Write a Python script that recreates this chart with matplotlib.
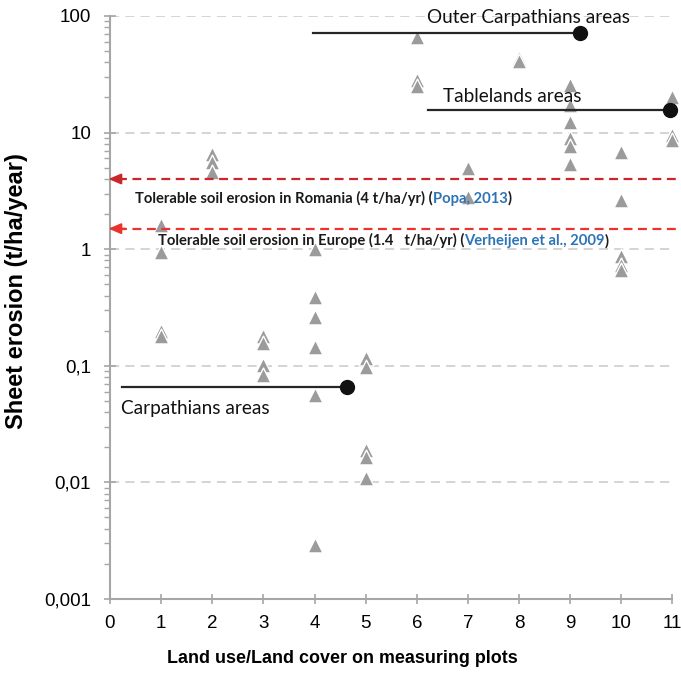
import matplotlib
matplotlib.use('Agg')
import matplotlib.pyplot as plt
from matplotlib.ticker import FixedLocator, LogLocator, NullFormatter

# land use / land cover class of each measuring plot and its sheet erosion (t/ha/year)
plot_class = [1, 1, 1, 1,
              2, 2, 2,
              3, 3, 3, 3,
              4, 4, 4, 4, 4, 4,
              5, 5, 5, 5, 5,
              6, 6, 6,
              7, 7,
              8, 8,
              9, 9, 9, 9, 9, 9,
              10, 10, 10, 10, 10,
              11, 11, 11]
erosion = [1.6, 0.95, 0.2, 0.18,
           6.6, 5.6, 4.6,
           0.18, 0.157, 0.102, 0.084,
           1.0, 0.39, 0.26, 0.145, 0.056, 0.0029,
           0.117, 0.097, 0.019, 0.0166, 0.011,
           66, 28, 25,
           5.0, 2.8,
           44, 41,
           25.6, 17.3, 12.3, 9.0, 7.7, 5.4,
           6.8, 2.65, 0.88, 0.73, 0.66,
           20, 9.6, 8.6]

# regional averages (line + dot)
region_names = ['Outer Carpathians areas', 'Tablelands areas', 'Carpathians areas']
region_value = [71.5, 15.6, 0.066]
region_x0 = [3.97, 6.22, 0.23]
region_x1 = [9.2, 10.95, 4.64]
region_text_x = [6.2, 6.52, 0.21]
region_text_y = [97, 20.6, 0.043]

# tolerable soil erosion thresholds
tol_values = [4.0, 1.5]
tol_colors = ['#C8272B', '#E8332F']
tol_text = ['Tolerable soil erosion in Romania (4 t/ha/yr) (',
            'Tolerable soil erosion in Europe (1.4   t/ha/yr) (']
tol_refs = ['Popa, 2013', 'Verheijen et al., 2009']
tol_text_x = [0.49, 0.94]
tol_text_y = [2.75, 1.18]

yticks = [0.001, 0.01, 0.1, 1, 10, 100]
ytick_labels = ['0,001', '0,01', '0,1', '1', '10', '100']

AXIS_GRAY = '#A6A6A6'
plt.rcParams['font.family'] = ['Liberation Sans', 'DejaVu Sans']

fig = plt.figure(figsize=(6.81, 6.75), dpi=100)
ax = fig.add_axes([0.1615, 0.1126, 0.826, 0.8637])
ax.set_yscale('log')
ax.set_xlim(0, 11)
ax.set_ylim(0.001, 100)

# grid (dashed) at decades above the bottom spine
for v in yticks[1:]:
    ax.axhline(v, color='#C9C9C9', lw=1.1, ls=(0, (6, 4)), zorder=0)

# points: draw highest first so lower markers overlap them like the original
order = sorted(range(len(erosion)), key=lambda i: -erosion[i])
ax.scatter([plot_class[i] for i in order], [erosion[i] for i in order],
           marker='^', s=115, color='#9B9B9B', edgecolors='white',
           linewidths=1.0, zorder=3, clip_on=False)

# threshold arrows
for v, c in zip(tol_values, tol_colors):
    ax.plot([0.15, 11.07], [v, v], color=c, lw=1.6, ls=(0, (4, 2.5)),
            zorder=4, clip_on=False)
    ax.annotate('', xy=(-0.03, v), xytext=(0.3, v),
                arrowprops=dict(arrowstyle='-|>,head_length=0.75,head_width=0.32',
                                color=c, lw=1.4, shrinkA=0, shrinkB=0),
                zorder=4, annotation_clip=False)

for txt, ref, tx, ty in zip(tol_text, tol_refs, tol_text_x, tol_text_y):
    t1 = ax.text(tx, ty, txt, fontsize=10.6, fontweight='bold', family='Lato',
                 color='#1A1A1A', ha='left', va='center', zorder=5)
    t2 = ax.annotate(ref, xy=(1, 0), xycoords=t1, va='bottom', ha='left',
                     fontsize=10.6, fontweight='bold', family='Lato',
                     color='#2E74B5', zorder=5)
    ax.annotate(')', xy=(1, 0), xycoords=t2, va='bottom', ha='left',
                fontsize=10.6, fontweight='bold', family='Lato',
                color='#1A1A1A', zorder=5)

# regional averages
for name, v, x0, x1, tx, ty in zip(region_names, region_value, region_x0,
                                   region_x1, region_text_x, region_text_y):
    ax.plot([x0, x1], [v, v], color='#262626', lw=1.6, zorder=5, clip_on=False)
    ax.plot([x1], [v], 'o', color='#111111', ms=10, zorder=6, clip_on=False)
    ax.text(tx, ty, name, fontsize=13.7, family='Lato', color='#111111',
            ha='left', va='center', zorder=6)

# axes styling
for s in ['top', 'right']:
    ax.spines[s].set_visible(False)
for s in ['left', 'bottom']:
    ax.spines[s].set_color(AXIS_GRAY)
    ax.spines[s].set_linewidth(1.5)

ax.xaxis.set_major_locator(FixedLocator(range(0, 12)))
ax.yaxis.set_major_locator(FixedLocator(yticks))
ax.set_yticklabels(ytick_labels)
ax.yaxis.set_minor_locator(LogLocator(base=10, subs=range(2, 10)))
ax.yaxis.set_minor_formatter(NullFormatter())
ax.tick_params(axis='y', which='major', direction='inout', length=9,
               width=1.2, color=AXIS_GRAY, labelsize=13.5, pad=9)
ax.tick_params(axis='y', which='minor', direction='out', length=4.5,
               width=1.0, color=AXIS_GRAY)
ax.tick_params(axis='x', which='major', direction='inout', length=7,
               width=1.2, color=AXIS_GRAY, labelsize=13.5, pad=8)

ax.set_xlabel('Land use/Land cover on measuring plots', fontsize=12.9,
              fontweight='bold')
ax.xaxis.set_label_coords(0.413, -0.087)
ax.set_ylabel('Sheet erosion (t/ha/year)', fontsize=17,
              fontweight='bold', va='center')
ax.yaxis.set_label_coords(-0.166, 0.528)

fig.savefig('out.png', dpi=100)
